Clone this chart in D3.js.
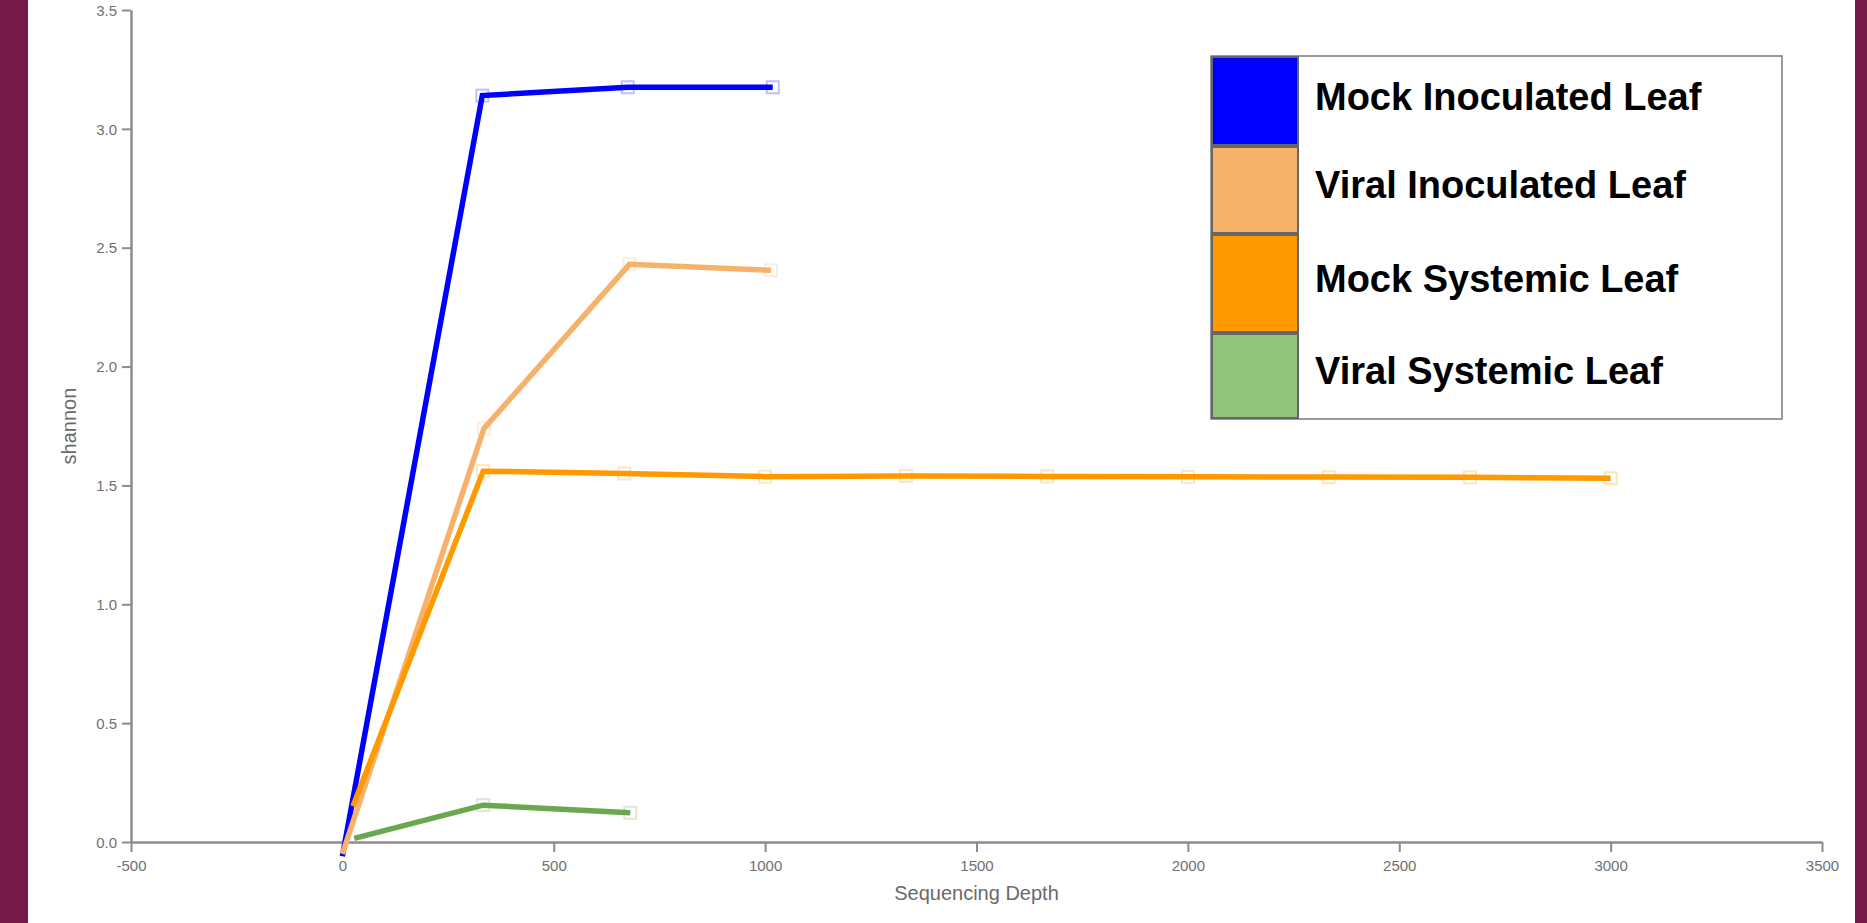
<!DOCTYPE html>
<html>
<head>
<meta charset="utf-8">
<script src="https://cdn.jsdelivr.net/npm/d3@7"></script>
<style>
  html, body { margin: 0; padding: 0; background: #761b47; }
  svg { display: block; }
</style>
</head>
<body>
<svg id="chart" width="1867" height="923"></svg>
<script>
// ---- data ----
const seriesNames = ["Mock Inoculated Leaf", "Viral Inoculated Leaf", "Mock Systemic Leaf", "Viral Systemic Leaf"];

const mockInoculatedDepth   = [0, 331, 675, 1018];
const mockInoculatedShannon = [-0.06, 3.14, 3.175, 3.175];

const viralInoculatedDepth   = [0, 335, 679, 1014];
const viralInoculatedShannon = [-0.05, 1.74, 2.43, 2.405];

const mockSystemicDepth   = [25, 333, 667, 1000, 1333, 1667, 2000, 2333, 2667, 3000];
const mockSystemicShannon = [0.15, 1.56, 1.55, 1.537, 1.54, 1.538, 1.536, 1.535, 1.534, 1.53];

const viralSystemicDepth   = [28, 333, 681];
const viralSystemicShannon = [0.015, 0.155, 0.123];

const xTickValues = [-500, 0, 500, 1000, 1500, 2000, 2500, 3000, 3500];
const yTickValues = [0.0, 0.5, 1.0, 1.5, 2.0, 2.5, 3.0, 3.5];
const xTitle = "Sequencing Depth";
const yTitle = "shannon";

// ---- styles ----
const lineColors   = ["#0000ff", "#f6b26b", "#ff9900", "#6aa84f"];
const legendColors = ["#0000ff", "#f6b26b", "#ff9900", "#93c47d"];
const legendRowHeights = [90, 88, 99, 86];

const series = [
  { depth: mockInoculatedDepth,  shannon: mockInoculatedShannon },
  { depth: viralInoculatedDepth, shannon: viralInoculatedShannon },
  { depth: mockSystemicDepth,    shannon: mockSystemicShannon },
  { depth: viralSystemicDepth,   shannon: viralSystemicShannon }
].map((s, i) => ({
  name: seriesNames[i],
  color: lineColors[i],
  points: s.depth.map((d, j) => ({ x: d, y: s.shannon[j] }))
}));

const W = 1867, H = 923;
const svg = d3.select("#chart");

// white panel
svg.append("rect").attr("x", 28).attr("y", 0).attr("width", 1855 - 28).attr("height", H).attr("fill", "#ffffff");

const x = d3.scaleLinear().domain([-500, 3500]).range([131, 1822]);
const y = d3.scaleLinear().domain([0, 3.5]).range([842, 10]);

const axisColor = "#8c8c8c";
const font = "'Liberation Sans', Arial, Helvetica, sans-serif";

// x axis
const gx = svg.append("g")
  .attr("transform", `translate(0,${y(0)})`)
  .call(d3.axisBottom(x).tickValues(xTickValues).tickSize(10).tickSizeOuter(0).tickPadding(8).tickFormat(d => String(d)));
// y axis
const gy = svg.append("g")
  .attr("transform", `translate(${x(-500)},0)`)
  .call(d3.axisLeft(y).tickValues(yTickValues).tickSize(9).tickSizeOuter(0).tickPadding(5).tickFormat(d => d.toFixed(1)));

[gx, gy].forEach(g => {
  g.select(".domain").attr("stroke", axisColor).attr("stroke-width", 2.5);
  g.selectAll(".tick line").attr("stroke", axisColor).attr("stroke-width", 2);
  g.selectAll(".tick text").attr("fill", "#707070").style("font-family", font).style("font-size", "15px");
});
gy.selectAll(".tick text").attr("dy", "0.35em");

// axis titles
svg.append("text")
  .attr("x", x(1500)).attr("y", 900)
  .attr("text-anchor", "middle")
  .attr("fill", "#6a6a6a")
  .style("font-family", font).style("font-size", "20px")
  .text(xTitle);

svg.append("text")
  .attr("transform", `translate(76,${(y(0) + y(3.5)) / 2}) rotate(-90)`)
  .attr("text-anchor", "middle")
  .attr("fill", "#6a6a6a")
  .style("font-family", font).style("font-size", "20px")
  .text(yTitle);

// faint markers
const markerSize = 12;
series.forEach(s => {
  svg.append("g")
    .selectAll("rect")
    .data(s.points.slice(1))
    .join("rect")
    .attr("x", d => x(d.x) - markerSize / 2)
    .attr("y", d => y(d.y) - markerSize / 2)
    .attr("width", markerSize).attr("height", markerSize)
    .attr("fill", "none")
    .attr("stroke", s.color)
    .attr("stroke-opacity", 0.25)
    .attr("stroke-width", 2);
});

// lines
const line = d3.line().x(d => x(d.x)).y(d => y(d.y));
series.forEach(s => {
  svg.append("path")
    .datum(s.points)
    .attr("d", line)
    .attr("fill", "none")
    .attr("stroke", s.color)
    .attr("stroke-width", 5.5)
    .attr("stroke-linejoin", "miter");
});

// legend
const lgX = 1211, lgY = 56, lgW = 571;
const lgH = d3.sum(legendRowHeights);
const rowTops = legendRowHeights.map((h, i) => lgY + d3.sum(legendRowHeights.slice(0, i)));
const swW = 87;
const legend = svg.append("g");
legend.append("rect")
  .attr("x", lgX).attr("y", lgY).attr("width", lgW).attr("height", lgH)
  .attr("fill", "#ffffff").attr("stroke", "#7a7a7a").attr("stroke-width", 1.5);

const rows = legend.selectAll("g.row")
  .data(seriesNames)
  .join("g").attr("class", "row");

rows.append("rect")
  .attr("x", lgX + 1)
  .attr("y", (d, i) => rowTops[i] + 1)
  .attr("width", swW - 1)
  .attr("height", (d, i) => legendRowHeights[i] - 2)
  .attr("fill", (d, i) => legendColors[i])
  .attr("stroke", "#666666")
  .attr("stroke-width", 2);

rows.append("text")
  .attr("x", lgX + 104)
  .attr("y", (d, i) => rowTops[i] + legendRowHeights[i] * 0.55 + 4)
  .attr("fill", "#000000")
  .style("font-family", font)
  .style("font-weight", "bold")
  .style("font-size", "38px")
  .text(d => d);
</script>
</body>
</html>
